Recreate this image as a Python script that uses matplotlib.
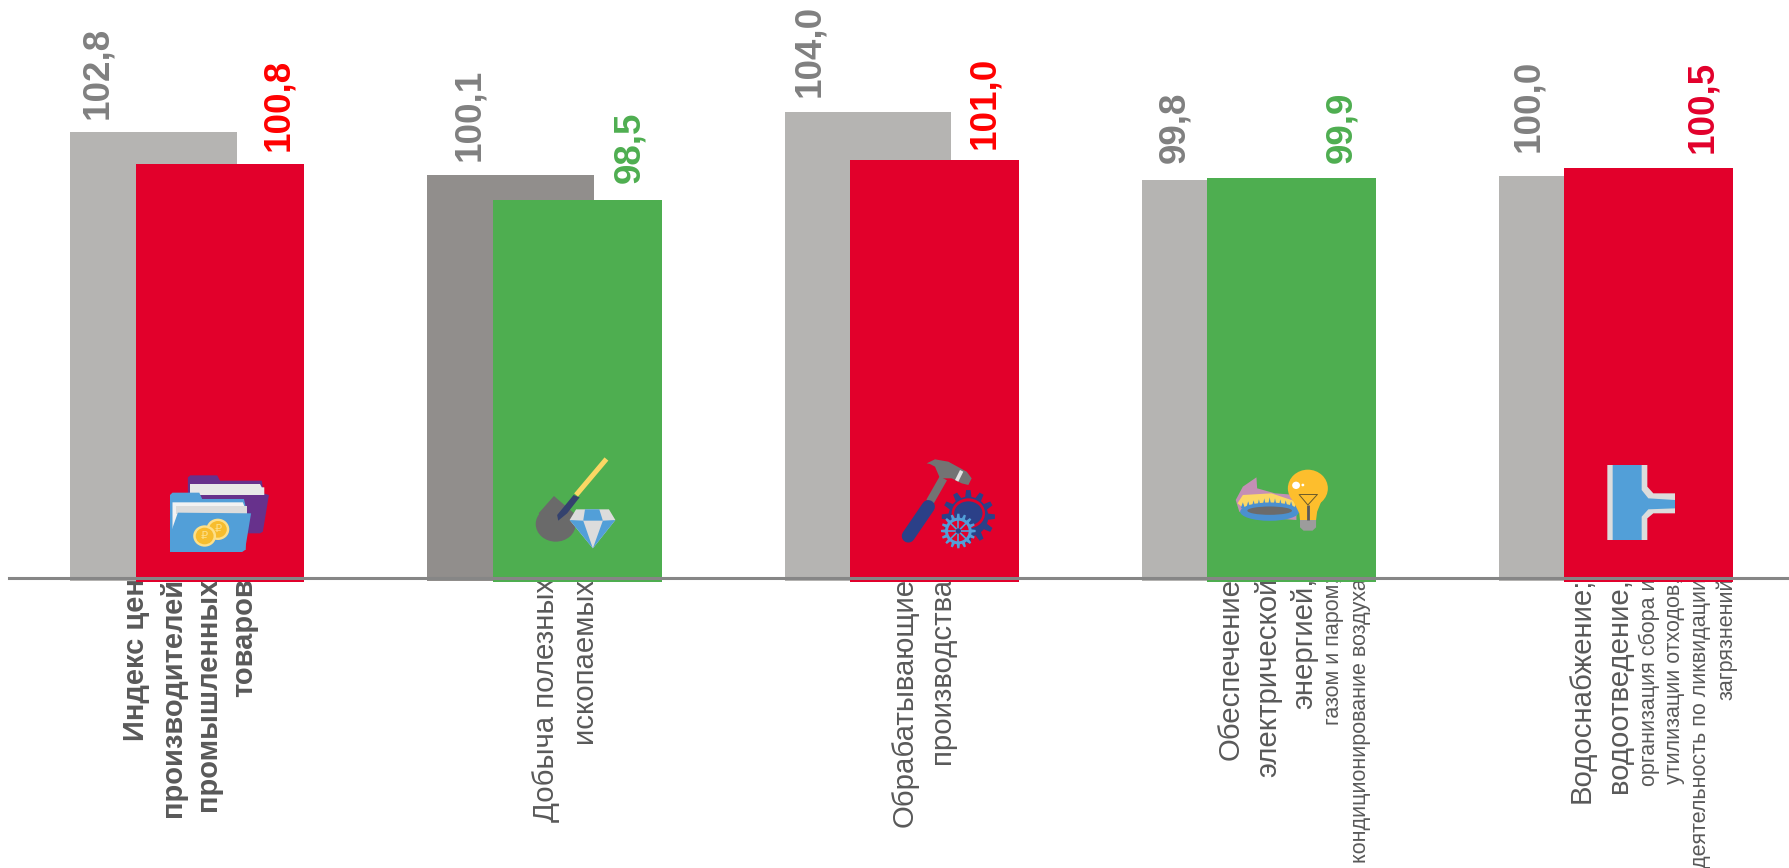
import numpy as np
import matplotlib
matplotlib.use("Agg")
import matplotlib.pyplot as plt
from matplotlib.patches import Polygon, Ellipse

plt.rcParams['font.family'] = ['Liberation Sans', 'DejaVu Sans']

# values
prev_values = [102.8, 100.1, 104.0, 99.8, 100.0]
curr_values = [100.8, 98.5, 101.0, 99.9, 100.5]
value_text_prev = ['102,8', '100,1', '104,0', '99,8', '100,0']
value_text_curr = ['100,8', '98,5', '101,0', '99,9', '100,5']
category_lines = [
    ['Индекс цен', 'производителей', 'промышленных', 'товаров'],
    ['Добыча полезных', 'ископаемых'],
    ['Обрабатывающие', 'производства'],
    ['Обеспечение', 'электрической', 'энергией,', 'газом и паром;', 'кондиционирование воздуха'],
    ['Водоснабжение;', 'водоотведение,', 'организация сбора и', 'утилизации отходов,',
     'деятельность по ликвидации', 'загрязнений'],
]

# styles
GREY = '#b5b4b2'
DARK_GREY = '#918e8c'
RED = '#e2002b'
GREEN = '#4eae50'
prev_colors = [GREY, DARK_GREY, GREY, GREY, GREY]
curr_colors = [RED, GREEN, RED, GREEN, RED]
curr_text_colors = ['#ff0000', GREEN, '#ff0000', GREEN, RED]

line_x = [
    [136, 173, 208, 244],
    [546, 584],
    [905, 942],
    [1231, 1268, 1304, 1334, 1361],
    [1582, 1619, 1649, 1675, 1701, 1726.5],
]
line_size = [
    [21, 21, 21, 21],
    [21.2, 21.2],
    [21.2, 21.2],
    [21.2, 21.2, 21.2, 15.5, 15.5],
    [21.2, 21.2, 15.5, 15.5, 15.5, 15.5],
]
prev_dx = [-56, -42, -59, -51, -54]
curr_dx = [58, 52, 50, 50, 54]
prev_gap = [13, 14, 15, 17, 24]
curr_gap = [13, 17, 11, 15, 15]

W, H = 1790, 868
fig = plt.figure(figsize=(W / 100, H / 100), dpi=100)
ax = fig.add_axes([0, 0, 1, 1])
ax.set_xlim(-0.5275, 4.485)
# 16 px per index unit, 100 sits at y=176 px
ax.set_ylim(100 - (H - 176.4) / 16, 100 + 176.4 / 16)
ax.axis('off')

# overlay in image pixels, for label lines and the little icons
over = fig.add_axes([0, 0, 1, 1], zorder=5)
over.set_xlim(0, W)
over.set_ylim(H, 0)
over.axis('off')
over.patch.set_alpha(0)

x = np.arange(5)
ax.bar(x - 0.097, np.array(prev_values) - 74.7, bottom=74.7, width=0.467, color=prev_colors, zorder=2)
ax.bar(x + 0.0885, np.array(curr_values) - 74.64, bottom=74.64, width=0.473, color=curr_colors, zorder=3)
ax.axhline(100 - (578 - 176.4) / 16, xmin=0.0051, color='#868686', lw=2.2, zorder=4)

for i in x:
    ax.annotate(value_text_prev[i], (i - 0.096, prev_values[i]), xytext=(prev_dx[i], prev_gap[i]),
                textcoords='offset pixels', rotation=90, ha='center', va='bottom',
                fontsize=26.5, fontweight='bold', color='#808080', zorder=6)
    ax.annotate(value_text_curr[i], (i + 0.0895, curr_values[i]), xytext=(curr_dx[i], curr_gap[i]),
                textcoords='offset pixels', rotation=90, ha='center', va='bottom',
                fontsize=26.5, fontweight='bold', color=curr_text_colors[i], zorder=6)

# category text sits under the bars, so it goes in the main axes
for g, lines in enumerate(category_lines):
    for n, line in enumerate(lines):
        ax.text(line_x[g][n], 578, line, transform=over.transData, rotation=90,
                ha='center', va='top', fontsize=line_size[g][n], color='#595959',
                fontweight='bold' if g == 0 else 'normal', zorder=1, clip_on=False)


def poly(pts, base, sx, sy, color, z=6):
    pts = [(base[0] + a / sx, base[1] + b / sy) for a, b in pts]
    over.add_patch(Polygon(pts, closed=True, facecolor=color, edgecolor='none', zorder=z))


def oval(cx, cy, w, h, base, sx, sy, color, z=6):
    over.add_patch(Ellipse((base[0] + cx / sx, base[1] + cy / sy), w / sx, h / sy,
                           facecolor=color, edgecolor='none', zorder=z))


def stroke(p1, p2, base, sx, sy, color, lw, z=6, cap='round'):
    over.plot([base[0] + p1[0] / sx, base[0] + p2[0] / sx], [base[1] + p1[1] / sy, base[1] + p2[1] / sy],
              color=color, lw=lw, solid_capstyle=cap, zorder=z)


def gear(cx, cy, r_out, r_in, teeth, base, sx, sy, color, z=6):
    pts = []
    for k in range(teeth):
        a = 2 * np.pi * k / teeth
        d = 2 * np.pi / teeth
        for frac, r in [(-0.3, r_in), (-0.16, r_out), (0.16, r_out), (0.3, r_in)]:
            pts.append((cx + r * np.cos(a + frac * d), cy + r * np.sin(a + frac * d)))
    poly(pts, base, sx, sy, color, z)


# folder
b = (60, 380)
poly([(358, 292), (365, 286), (440, 286), (448, 302), (565, 302), (570, 340), (585, 345),
      (568, 455), (560, 460), (450, 460), (358, 400)], b, 2.8, 3, '#67318c')
poly([(364, 312), (560, 312), (565, 322), (572, 322), (572, 345), (364, 345)], b, 2.8, 3, '#e8e8e8', 7)
poly([(308, 345), (315, 338), (390, 338), (398, 357), (515, 357), (520, 380), (520, 510), (308, 516)],
     b, 2.8, 3, '#529fd8', 8)
poly([(315, 367), (512, 367), (516, 378), (523, 378), (523, 402), (315, 465)], b, 2.8, 3, '#f2f2f2', 9)
poly([(325, 378), (523, 378), (523, 402), (325, 402)], b, 2.8, 3, '#dcdcdc', 9)
poly([(330, 398), (535, 400), (518, 510), (510, 516), (315, 516), (308, 510), (308, 465)],
     b, 2.8, 3, '#529fd8', 10)
oval(442, 448, 64, 64, b, 2.8, 3, '#fde08a', 11)
oval(442, 448, 50, 50, b, 2.8, 3, '#f7bd2e', 11)
oval(405, 468, 64, 64, b, 2.8, 3, '#fde08a', 12)
oval(405, 468, 50, 50, b, 2.8, 3, '#f7bd2e', 12)
over.text(60 + 442 / 2.8, 380 + 448 / 3, '₽', fontsize=8, color='#fde08a', ha='center', va='center', zorder=13)
over.text(60 + 405 / 2.8, 380 + 468 / 3, '₽', fontsize=8, color='#fde08a', ha='center', va='center', zorder=13)

# shovel and diamond
oval(1388, 432, 112, 106, b, 2.8, 3, '#6a6a6a')
poly([(1383, 348), (1442, 402), (1400, 440), (1340, 400)], b, 2.8, 3, '#6a6a6a')
poly([(1395, 422), (1392, 405), (1438, 345), (1455, 352), (1420, 400)], b, 2.8, 3, '#34426e', 7)
stroke((1445, 345), (1530, 237), b, 2.8, 3, '#fbd764', 3.6, 7, 'butt')
poly([(1445, 388), (1537, 388), (1555, 420), (1492, 505), (1427, 420)], b, 2.8, 3, '#dcdcdc', 7)
poly([(1470, 388), (1510, 388), (1520, 422), (1465, 422)], b, 2.8, 3, '#529fd8', 8)
poly([(1427, 420), (1465, 422), (1492, 505)], b, 2.8, 3, '#529fd8', 8)
poly([(1520, 422), (1555, 420), (1492, 505)], b, 2.8, 3, '#529fd8', 8)

# hammer and gears
b = (880, 450)
poly([(140, 40), (165, 28), (205, 35), (260, 65), (275, 85), (265, 105), (245, 100), (215, 85),
      (180, 85), (165, 50), (150, 42)], b, 3, 3, '#737373')
poly([(225, 90), (240, 60), (250, 65), (235, 95)], b, 3, 3, '#e4e4e4', 7)
stroke((190, 85), (150, 155), b, 3, 3, '#737373', 6, 6, 'butt')
stroke((145, 170), (85, 258), b, 3, 3, '#2b4088', 9.5, 7)
gear(265, 200, 80, 60, 12, b, 3, 3, '#2b4088')
oval(265, 190, 100, 90, b, 3, 3, RED, 7)
oval(265, 190, 85, 72, b, 3, 3, '#2b4088', 8)
gear(235, 243, 52, 40, 16, b, 3, 3, '#529fd8', 9)
oval(235, 243, 62, 62, b, 3, 3, RED, 10)
for k in range(8):
    a = np.pi * k / 4
    stroke((235, 243), (235 + 36 * np.cos(a), 243 + 36 * np.sin(a)), b, 3, 3, '#529fd8', 1.2, 11, 'butt')
oval(235, 243, 16, 16, b, 3, 3, '#2b4088', 12)

# gas burner and bulb
b = (1000, 380)
poly([(660, 360), (680, 320), (718, 292), (720, 325), (770, 340), (830, 345), (830, 420), (700, 410), (670, 395)],
     b, 2.8, 3, '#c48fb5')
poly([(665, 370), (680, 345), (760, 340), (830, 365), (830, 400), (700, 400)], b, 2.8, 3, '#fbd764', 7)
oval(755, 395, 165, 55, b, 2.8, 3, '#4b90cf', 8)
for k in range(11):
    px = 680 + 15 * k
    poly([(px - 6, 385), (px, 352 + abs(k - 5) * 3), (px + 6, 385)], b, 2.8, 3, '#4b90cf', 8)
oval(755, 392, 125, 25, b, 2.8, 3, '#6b6b6b', 9)
poly([(815, 350), (838, 400), (840, 420), (885, 420), (888, 395), (905, 350)], b, 2.8, 3, '#fdbe2d', 10)
oval(862, 325, 112, 112, b, 2.8, 3, '#fdbe2d', 10)
poly([(840, 420), (885, 420), (885, 442), (875, 452), (850, 452), (840, 442)], b, 2.8, 3, '#9c9c9c', 11)
oval(829, 316, 22, 22, b, 2.8, 3, '#ffffff', 11)
oval(848, 315, 8, 8, b, 2.8, 3, '#ffffff', 11)
stroke((837, 343), (889, 343), b, 2.8, 3, '#6b5a2a', 0.7, 11, 'butt')
stroke((837, 343), (862, 375), b, 2.8, 3, '#6b5a2a', 0.7, 11, 'butt')
stroke((889, 343), (862, 375), b, 2.8, 3, '#6b5a2a', 0.7, 11, 'butt')
stroke((862, 375), (862, 420), b, 2.8, 3, '#5a5a5a', 2, 11, 'butt')

# pipe
b = (1590, 450)
poly([(52, 45), (172, 45), (172, 110), (190, 130), (255, 130), (255, 190), (190, 190), (172, 205),
      (172, 270), (52, 270)], b, 3, 3, '#dcdcdc')
poly([(68, 45), (155, 45), (155, 120), (175, 145), (255, 150), (255, 175), (175, 178), (155, 200),
      (155, 270), (68, 270)], b, 3, 3, '#529fd8', 7)

fig.savefig('out.png', dpi=100)
plt.close()
